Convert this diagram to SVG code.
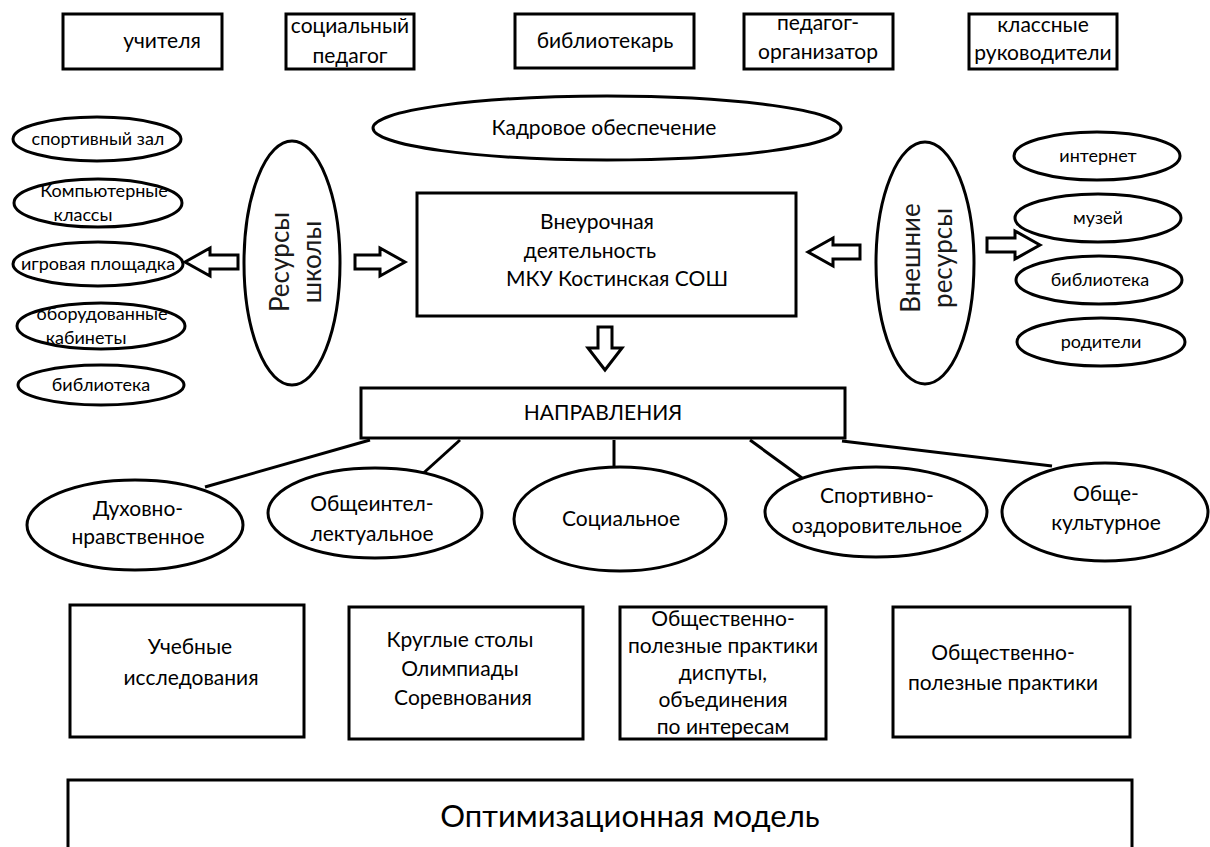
<svg xmlns="http://www.w3.org/2000/svg" width="1210" height="847" viewBox="0 0 1210 847">
<style>
.b{fill:#fff;stroke:#000;stroke-width:3}
.e{fill:#fff;stroke:#000;stroke-width:3}
.a{fill:#fff;stroke:#000;stroke-width:3;stroke-linejoin:miter}
.t{font-family:Lato,"Open Sans","Noto Sans",sans-serif;font-size:21px;fill:#000;text-anchor:middle}
.s{font-family:Lato,"Open Sans","Noto Sans",sans-serif;font-size:18px;fill:#000;text-anchor:middle}
.r{font-family:Lato,"Open Sans","Noto Sans",sans-serif;font-size:26px;fill:#1a1a1a;text-anchor:middle}
.c{stroke:#000;stroke-width:3;fill:none}
</style>
<rect width="1210" height="847" fill="#fff"/>
<g id="connectors">
<line class="c" x1="370" y1="440" x2="205" y2="487"/>
<line class="c" x1="460" y1="440" x2="418" y2="478"/>
<line class="c" x1="614" y1="440" x2="614" y2="468"/>
<line class="c" x1="750" y1="440" x2="802" y2="478"/>
<line class="c" x1="842" y1="441" x2="1052" y2="466"/>
<polygon class="a" points="185,262 210,248 210,255 238,255 238,269 210,269 210,276"/>
<polygon class="a" points="405,262 380,248 380,255 355,255 355,269 380,269 380,276"/>
<polygon class="a" points="808,252 833,238 833,245 860,245 860,259 833,259 833,266"/>
<polygon class="a" points="1040,245 1015,231 1015,238 987,238 987,252 1015,252 1015,259"/>
<polygon class="a" points="605,370 588,348 598,348 598,327 612,327 612,348 622,348"/>
</g>
<g id="n-uchitelya"><rect class="b" x="63" y="14" width="159" height="55"/><text class="t" x="162" y="48">учителя</text></g>
<g id="n-socped"><rect class="b" x="286" y="14" width="128" height="55"/><text class="t" x="350" y="33">социальный</text><text class="t" x="350" y="63">педагог</text></g>
<g id="n-bibliotekar"><rect class="b" x="515" y="14" width="179" height="54"/><text class="t" x="605" y="48">библиотекарь</text></g>
<g id="n-pedorg"><rect class="b" x="744" y="14" width="149" height="55"/><text class="t" x="818" y="30">педагог-</text><text class="t" x="818" y="59">организатор</text></g>
<g id="n-klruk"><rect class="b" x="969" y="14" width="148" height="55"/><text class="t" x="1043" y="32">классные</text><text class="t" x="1043" y="60">руководители</text></g>
<g id="n-kadrovoe"><ellipse class="e" cx="607" cy="128" rx="234" ry="32"/><text class="t" x="604" y="135">Кадровое обеспечение</text></g>
<g id="n-sportzal"><ellipse class="e" cx="97" cy="139" rx="84" ry="22"/><text class="s" x="98" y="145">спортивный зал</text></g>
<g id="n-komp"><ellipse class="e" cx="98" cy="203" rx="84" ry="24"/><text class="s" x="104" y="197">Компьютерные</text><text class="s" x="83" y="221">классы</text></g>
<g id="n-igr"><ellipse class="e" cx="98" cy="264" rx="85" ry="22"/><text class="s" x="98" y="270">игровая площадка</text></g>
<g id="n-obor"><ellipse class="e" cx="101" cy="326" rx="84" ry="23"/><text class="s" x="102" y="320">оборудованные</text><text class="s" x="86" y="344">кабинеты</text></g>
<g id="n-bibl1"><ellipse class="e" cx="101" cy="385" rx="83" ry="20"/><text class="s" x="101" y="391">библиотека</text></g>
<g id="n-resursy"><ellipse class="e" cx="292" cy="263" rx="48" ry="122"/><text class="r" transform="translate(289,262) rotate(-90)">Ресурсы</text><text class="r" transform="translate(321,262) rotate(-90)">школы</text></g>
<g id="n-main"><rect class="b" x="417" y="193" width="379" height="123"/><text class="t" x="597" y="229">Внеурочная</text><text class="t" x="590" y="258">деятельность</text><text class="t" x="617" y="286">МКУ Костинская СОШ</text></g>
<g id="n-vnesh"><ellipse class="e" cx="925" cy="263" rx="49" ry="121"/><text class="r" transform="translate(920,258) rotate(-90)">Внешние</text><text class="r" transform="translate(952,258) rotate(-90)">ресурсы</text></g>
<g id="n-internet"><ellipse class="e" cx="1097" cy="156" rx="83" ry="24"/><text class="s" x="1098" y="162">интернет</text></g>
<g id="n-muzei"><ellipse class="e" cx="1098" cy="218" rx="83" ry="24"/><text class="s" x="1098" y="224">музей</text></g>
<g id="n-bibl2"><ellipse class="e" cx="1099" cy="280" rx="83" ry="24"/><text class="s" x="1100" y="286">библиотека</text></g>
<g id="n-roditeli"><ellipse class="e" cx="1101" cy="342" rx="84" ry="24"/><text class="s" x="1101" y="348">родители</text></g>
<g id="n-napr"><rect class="b" x="361" y="388" width="484" height="50"/><text class="t" x="603" y="420">НАПРАВЛЕНИЯ</text></g>
<g id="n-duh"><ellipse class="e" cx="135" cy="525" rx="108" ry="45"/><text class="t" x="138" y="516">Духовно-</text><text class="t" x="138" y="544">нравственное</text></g>
<g id="n-obsh"><ellipse class="e" cx="375" cy="513" rx="107" ry="45"/><text class="t" x="372" y="511">Общеинтел-</text><text class="t" x="372" y="541">лектуальное</text></g>
<g id="n-soc"><ellipse class="e" cx="620" cy="519" rx="106" ry="52"/><text class="t" x="621" y="526">Социальное</text></g>
<g id="n-sport"><ellipse class="e" cx="876" cy="512" rx="111" ry="45"/><text class="t" x="877" y="503">Спортивно-</text><text class="t" x="877" y="533">оздоровительное</text></g>
<g id="n-kult"><ellipse class="e" cx="1105" cy="512" rx="103" ry="49"/><text class="t" x="1106" y="501">Обще-</text><text class="t" x="1106" y="530">культурное</text></g>
<g id="n-ucheb"><rect class="b" x="70" y="605" width="234" height="132"/><text class="t" x="190" y="654">Учебные</text><text class="t" x="191" y="685">исследования</text></g>
<g id="n-krug"><rect class="b" x="349" y="607" width="234" height="132"/><text class="t" x="460" y="647">Круглые столы</text><text class="t" x="460" y="676">Олимпиады</text><text class="t" x="463" y="705">Соревнования</text></g>
<g id="n-obpol1"><rect class="b" x="620" y="607" width="206" height="132"/><text class="t" x="723" y="626">Общественно-</text><text class="t" x="723" y="653">полезные практики</text><text class="t" x="723" y="680">диспуты,</text><text class="t" x="723" y="707">объединения</text><text class="t" x="723" y="734">по интересам</text></g>
<g id="n-obpol2"><rect class="b" x="893" y="607" width="237" height="130"/><text class="t" x="1003" y="660">Общественно-</text><text class="t" x="1003" y="690">полезные практики</text></g>
<g id="n-optim"><rect class="b" x="68" y="780" width="1064" height="70"/><text class="t" x="630" y="827" style="font-size:31px">Оптимизационная модель</text></g>
</svg>
